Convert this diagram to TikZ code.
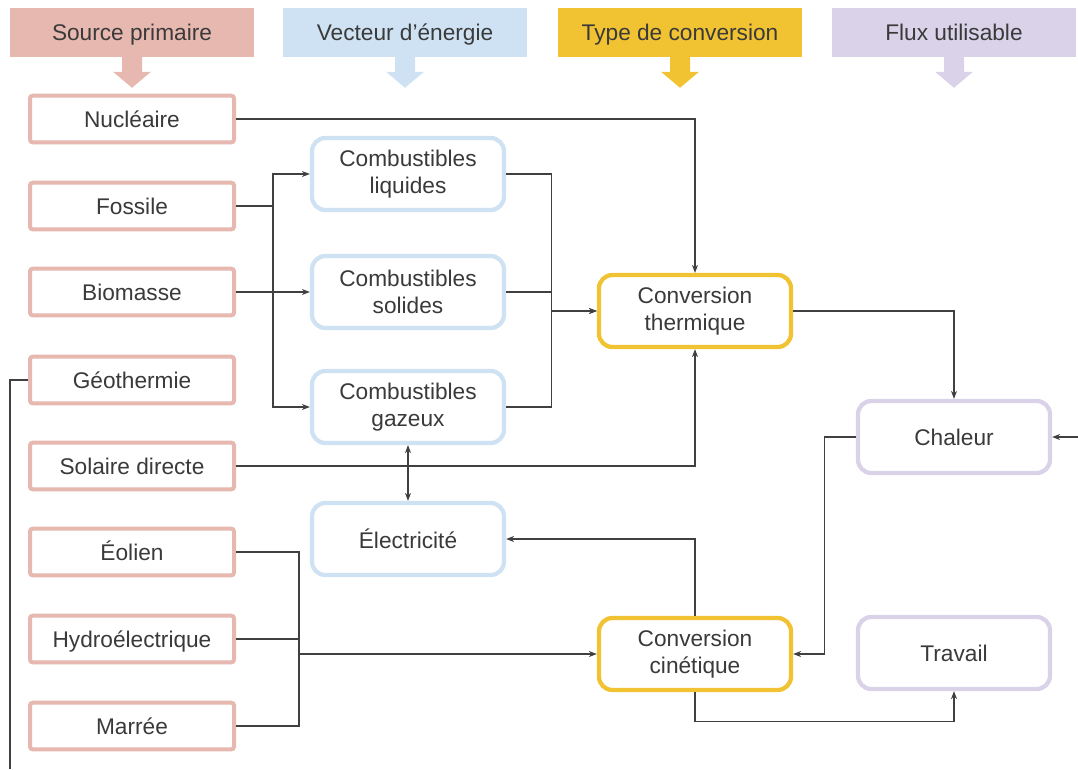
\documentclass[tikz,border=0pt]{standalone}
\usepackage{fontspec}
\setmainfont{Liberation Sans}
\usepackage{xcolor}
\usetikzlibrary{arrows.meta,calc}
\definecolor{srccol}{HTML}{E6B8AF}
\definecolor{veccol}{HTML}{CFE2F3}
\definecolor{convcol}{HTML}{F1C232}
\definecolor{fluxcol}{HTML}{D9D2E9}
\definecolor{txtcol}{HTML}{3A3A3A}
\definecolor{linecol}{HTML}{404040}

\tikzset{
  every node/.style={font=\fontsize{17}{20}\selectfont, text=txtcol},
  header/.style={fill=#1, minimum width=183pt, minimum height=36.75pt, inner sep=0pt,
                 text height=13.5pt, text depth=1.5pt},
  srcbox/.style={draw=srccol, fill=white, line width=3pt, rounded corners=2pt,
                 minimum width=153pt, minimum height=35pt, inner sep=0pt,
                 text height=13.5pt, text depth=1.5pt},
  bigbox/.style={draw=#1, fill=white, line width=3.2pt, rounded corners=10pt,
                 minimum width=144pt, minimum height=54pt, align=center, inner sep=0pt},
  wire/.style={draw=linecol, line width=0.8pt},
  link/.style={wire, -{Stealth[length=6pt,width=4.5pt]}},
  dlink/.style={wire, {Stealth[length=6pt,width=4.5pt]}-{Stealth[length=6pt,width=4.5pt]}}
}

\newcommand{\headarrow}[2]{%
  \fill[#2] ($(#1.south)+(-10,0)$) -- ++(0,15) -- ++(-9,0) -- ++(19,16)
            -- ++(19,-16) -- ++(-9,0) -- ++(0,-15) -- cycle;}

\begin{document}
\begin{tikzpicture}[x=0.75pt, y=-0.75pt]
  \useasboundingbox (0,0) rectangle (1078,769);

  % column headers
  \node[header=srccol]  (hsrc)  at (132,32) {Source primaire};
  \node[header=veccol]  (hvec)  at (405,32) {Vecteur d’énergie};
  \node[header=convcol] (hconv) at (680,32) {Type de conversion};
  \node[header=fluxcol] (hflux) at (954,32) {Flux utilisable};
  \headarrow{hsrc}{srccol}
  \headarrow{hvec}{veccol}
  \headarrow{hconv}{convcol}
  \headarrow{hflux}{fluxcol}

  % primary sources
  \node[srcbox] (nuc) at (132,119) {Nucléaire};
  \node[srcbox] (fos) at (132,206) {Fossile};
  \node[srcbox] (bio) at (132,292) {Biomasse};
  \node[srcbox] (geo) at (132,380) {Géothermie};
  \node[srcbox] (sol) at (132,466) {Solaire directe};
  \node[srcbox] (eol) at (132,552) {Éolien};
  \node[srcbox] (hyd) at (132,639) {Hydroélectrique};
  \node[srcbox] (mar) at (132,726) {Marrée};

  % carriers
  \node[bigbox=veccol] (liq)  at (408,174) {Combustibles\\liquides};
  \node[bigbox=veccol] (sold) at (408,292) {Combustibles\\solides};
  \node[bigbox=veccol] (gaz)  at (408,407) {Combustibles\\gazeux};
  \node[bigbox=veccol] (elec) at (408,539) {Électricité};

  % conversions
  \node[bigbox=convcol] (therm) at (695,311) {Conversion\\thermique};
  \node[bigbox=convcol] (cin)   at (695,654) {Conversion\\cinétique};

  % usable flows
  \node[bigbox=fluxcol] (chal) at (954,437) {Chaleur};
  \node[bigbox=fluxcol] (trav) at (954,653) {Travail};

  % free ends
  \coordinate (geoend) at (10,769);
  \coordinate (chalin) at (1078,437);
  \coordinate (eb) at ($(hyd.east)+(63,0)$);

  % connectors
  \draw[link] (nuc.east) -| (therm.north);
  \draw[link] (fos.east) -- ++(37,0) |- (liq.west);
  \draw[link] (fos.east) -- ++(37,0) |- (gaz.west);
  \draw[link] (bio.east) -- (sold.west);
  \draw[link] (liq.east) -- ++(45,0) |- (therm.west);
  \draw[link] (gaz.east) -- ++(45,0) |- (therm.west);
  \draw[wire] (sold.east) -- ++(45,0);
  \draw[link] (sol.east) -| (therm.south);
  \draw[dlink] (gaz.south) -- (elec.north);
  \draw[link] (therm.east) -| (chal.north);
  \draw[link] (chal.west) -- ++(-31,0) |- (cin.east);
  \draw[link] (cin.north) |- (elec.east);
  \draw[wire] (eol.east) -- ++(63,0) |- (mar.east);
  \draw[wire] (hyd.east) -- (eb);
  \draw[link, line width=1.6pt] (eb |- cin.west) -- (cin.west);
  \draw[link] (cin.south) -- ++(0,29) -| (trav.south);
  \draw[wire] (geo.west) -| (geoend);
  \draw[link] (chalin) -- (chal.east);
\end{tikzpicture}
\end{document}
